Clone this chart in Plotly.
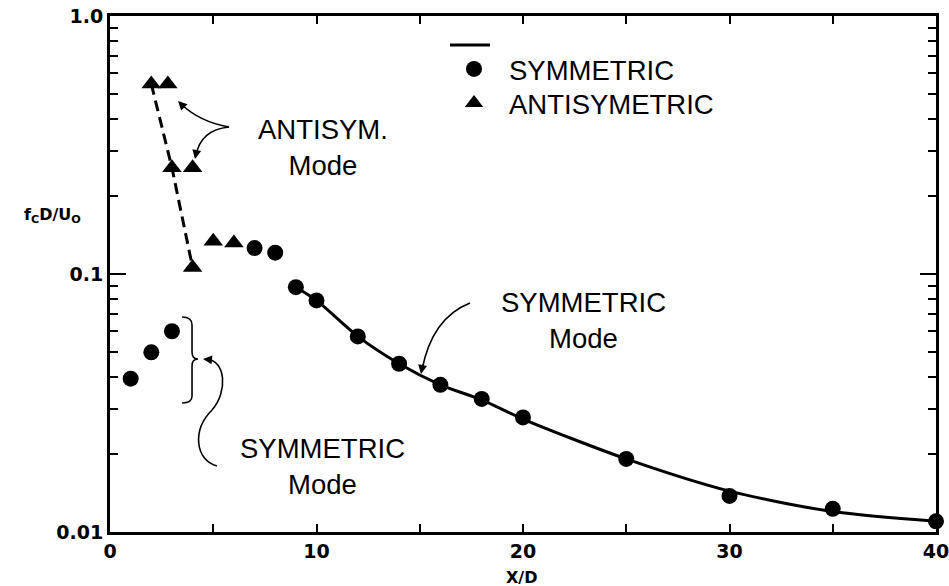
import plotly.graph_objects as go

# ---- data ----
sym_x = [1, 2, 3, 7, 8, 9, 10, 12, 14, 16, 18, 20, 25, 30, 35, 40]
sym_y = [0.0393, 0.0497, 0.060, 0.126, 0.121, 0.0889, 0.079, 0.0573, 0.0449,
         0.0372, 0.0328, 0.0278, 0.0192, 0.0138, 0.0123, 0.0110]
anti_x = [2, 2.8, 3, 4, 4, 5, 6]
anti_y = [0.545, 0.545, 0.258, 0.258, 0.106, 0.134, 0.132]
fit_x = [9, 10, 12, 14, 16, 18, 20, 25, 30, 35, 40]
fit_y = [0.0889, 0.079, 0.0573, 0.0449, 0.0372, 0.0325, 0.0274, 0.0192, 0.0144, 0.0120, 0.0110]
dash_x = [2, 3, 4]
dash_y = [0.545, 0.258, 0.106]
x_ticks = [0, 10, 20, 30, 40]
y_ticks = [0.01, 0.1, 1.0]
y_tick_text = ["0.01", "0.1", "1.0"]
y_minor = [m * d for d in (0.01, 0.1) for m in range(2, 10)]

# page geometry (body margin removed, so figure pixels == page pixels)
W, H = 949, 586
L, R, T, B = 110, 936, 16, 532          # plot area in pixels
def px(x):
    return (x - L) / (R - L)
def py(y):
    return (B - y) / (B - T)
def P(x, y):
    return f"{px(x):.4f},{py(y):.4f}"

fig = go.Figure()
fig.add_trace(go.Scatter(x=fit_x, y=fit_y, mode="lines", name=" ", legend="legend",
                         line=dict(color="black", width=3, shape="spline", smoothing=0.8),
                         cliponaxis=False))
fig.add_trace(go.Scatter(x=sym_x, y=sym_y, mode="markers", name="SYMMETRIC", legend="legend2",
                         marker=dict(symbol="circle", size=16, color="black"),
                         cliponaxis=False))
fig.add_trace(go.Scatter(x=anti_x, y=anti_y, mode="markers", name="ANTISYMETRIC", legend="legend3",
                         marker=dict(symbol="triangle-up", size=17, color="black"),
                         cliponaxis=False))
fig.add_trace(go.Scatter(x=dash_x, y=dash_y, mode="lines", showlegend=False,
                         line=dict(color="black", width=3, dash="11px,6px")))

tickfont = dict(family="DejaVu Sans", size=19, color="black", weight="bold")
fig.update_xaxes(range=[0, 40], tickvals=x_ticks, ticks="inside", ticklen=8, tickwidth=2,
                 tickcolor="black", showline=True, linewidth=3, linecolor="black",
                 mirror="allticks", showgrid=False, zeroline=False, tickfont=tickfont,
                 ticklabeloverflow="allow", automargin=False,
                 minor=dict(dtick=5, tick0=0, ticks="inside", ticklen=8, tickwidth=2,
                            tickcolor="black", showgrid=False))
fig.update_yaxes(type="log", range=[-2, 0], tickvals=y_ticks, ticktext=y_tick_text,
                 ticks="inside", ticklen=16, tickwidth=2, tickcolor="black",
                 showline=True, linewidth=3, linecolor="black", mirror="allticks",
                 showgrid=False, zeroline=False, tickfont=tickfont,
                 ticklabeloverflow="allow", automargin=False,
                 minor=dict(tickvals=y_minor, ticks="inside", ticklen=8, tickwidth=2,
                            tickcolor="black", showgrid=False))

txt = dict(family="Liberation Sans, Arial", size=27.5, color="black")
annos = [
    dict(x=px(323), y=py(147), text="ANTISYM.<br>Mode"),
    dict(x=px(322), y=py(466), text="SYMMETRIC<br>Mode"),
    dict(x=px(583), y=py(321), text="SYMMETRIC<br>Mode"),
]
annotations = []
for a in annos:
    annotations.append(dict(xref="paper", yref="paper", x=a["x"], y=a["y"], text=a["text"],
                            showarrow=False, font=txt, align="center",
                            xanchor="center", yanchor="middle"))
lab = dict(family="DejaVu Sans", size=16, color="black", weight="bold")
annotations.append(dict(xref="paper", yref="paper", x=px(52), y=py(215),
                        text="f<sub>C</sub>D/U<sub>O</sub>", showarrow=False, font=lab,
                        xanchor="center", yanchor="middle"))
annotations.append(dict(xref="paper", yref="paper", x=px(521), y=py(577),
                        text="X/D", showarrow=False, font=lab,
                        xanchor="center", yanchor="middle"))
heads = [((178, 101), (8, 8)), ((195, 159), (2, -10)), ((203, 359), (10, 1)),
         ((421, 374), (2, -11))]
for (hx, hy), (ax, ay) in heads:
    annotations.append(dict(xref="paper", yref="paper", x=px(hx), y=py(hy), ax=ax, ay=ay,
                            text="", showarrow=True, arrowhead=2, arrowsize=1.2,
                            arrowwidth=1.5, arrowcolor="black"))

curve = dict(color="black", width=1.6)
shapes = [
    dict(type="path", xref="paper", yref="paper", line=curve,
         path=f"M{P(229,127)} Q{P(200,122)} {P(181,104)}"),
    dict(type="path", xref="paper", yref="paper", line=curve,
         path=f"M{P(229,127)} Q{P(200,130)} {P(196,156)}"),
    dict(type="path", xref="paper", yref="paper", line=curve,
         path=f"M{P(182,317)} Q{P(192,317)} {P(192,325)} L{P(192,352)} Q{P(192,359)} {P(198,359)} "
              f"Q{P(192,359)} {P(192,366)} L{P(192,396)} Q{P(192,403)} {P(182,403)}"),
    dict(type="path", xref="paper", yref="paper", line=curve,
         path=f"M{P(217,466)} C{P(195,460)} {P(192,430)} {P(212,410)} "
              f"C{P(228,392)} {P(226,360)} {P(206,359)}"),
    dict(type="path", xref="paper", yref="paper", line=curve,
         path=f"M{P(470,303)} Q{P(432,318)} {P(422,370)}"),
]

legfont = dict(family="Liberation Sans, Arial", size=27.5, color="black")
def leg(xpage, ypage, iw):
    return dict(x=px(xpage), y=py(ypage), xanchor="left", yanchor="middle",
                font=legfont, bgcolor="rgba(0,0,0,0)", itemwidth=iw)

fig.update_layout(
    width=W, height=H,
    margin=dict(l=L, r=W - R, t=T, b=H - B, autoexpand=False),
    paper_bgcolor="white", plot_bgcolor="white",
    showlegend=True,
    legend=leg(445, 45, 40),
    legend2=leg(439, 69, 60),
    legend3=leg(439, 103, 60),
    annotations=annotations, shapes=shapes,
)

fig.write_html("out.html", config={"displayModeBar": False},
               post_script="document.body.style.margin='0';document.body.style.overflow='hidden';")
